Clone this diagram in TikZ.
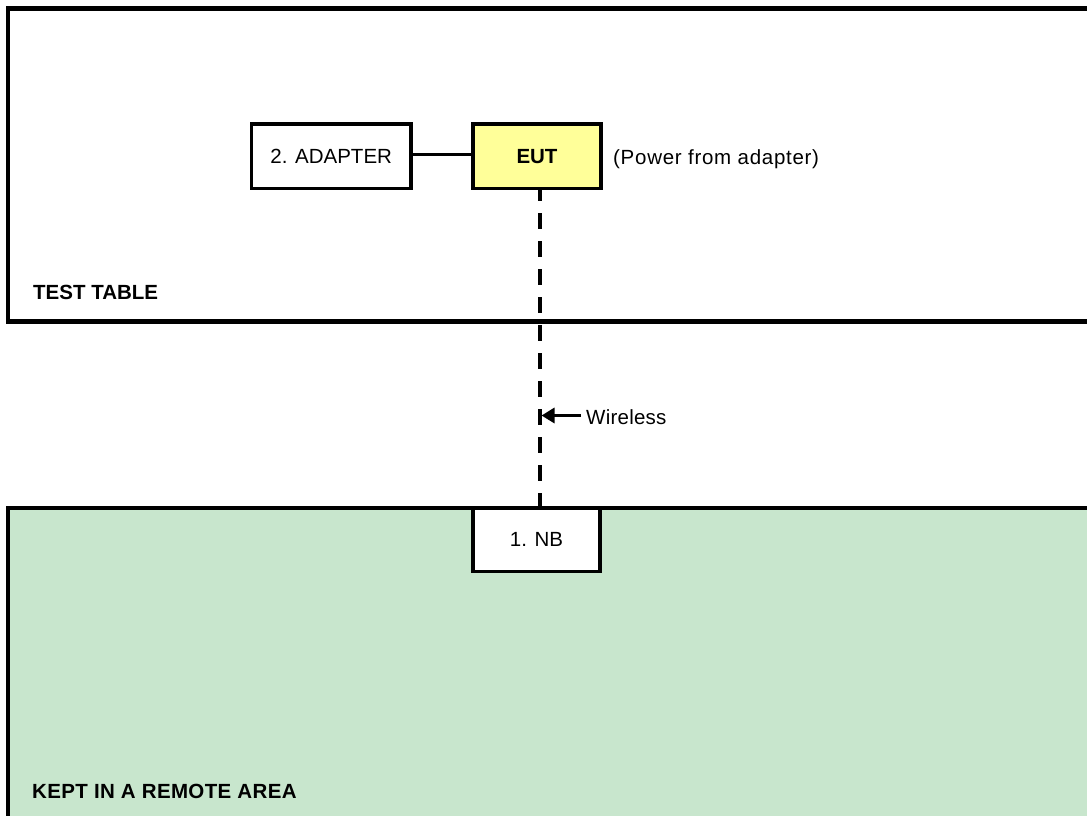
\documentclass[tikz,border=0pt]{standalone}
\usepackage{fontspec}
\setmainfont{Liberation Sans}
\usetikzlibrary{arrows.meta}
\definecolor{areagreen}{RGB}{200,230,205}
\definecolor{eutyellow}{RGB}{255,255,153}
\tikzset{
  area/.style={line width=4.8pt},
  devbox/.style={draw, line width=3.4pt, inner sep=0pt, font=\fontsize{20.5}{24}\selectfont},
  lbl/.style={inner sep=0pt, anchor=base west, font=\fontsize{20.5}{24}\selectfont},
  wire/.style={line width=3.4pt},
  wless/.style={line width=4pt, dash pattern=on 15.5pt off 12.5pt, dash phase=4.8pt},
}
\begin{document}
\begin{tikzpicture}[x=1pt,y=-1pt]
\useasboundingbox (0,0) rectangle (1087,816);
\clip (0,0) rectangle (1087,816);
% test table
\draw[area] (1100,8.5) -- (8,8.5) -- (8,321.5) -- (1100,321.5);
% remote area
\fill[areagreen] (8,508) rectangle (1100,830);
\draw[area] (8,830) -- (8,508) -- (1100,508);
% devices
\node[devbox, minimum width=159.5pt, minimum height=64.5pt] (adapter) at (331.25,156.25) {2. ADAPTER};
\node[devbox, fill=eutyellow, minimum width=128pt, minimum height=64.5pt, font=\fontsize{20.5}{24}\selectfont\bfseries] (eut) at (537,156.25) {EUT};
\draw[wless] ([xshift=2.5pt]eut.south) -- ([xshift=2.5pt,yshift=-1pt]eut.south |- 0,508);
\node[devbox, fill=white, minimum width=127pt, minimum height=63.5pt] (nb) at (536.5,539.75) {1. NB};
\draw[wire] ([yshift=2pt]adapter.east) -- ([yshift=2pt]eut.west);
% labels
\node[lbl, font=\fontsize{20.5}{24}\selectfont\addfontfeature{LetterSpace=3.5}] (power) at (613,164.5) {(Power from adapter)};
\node[lbl, font=\fontsize{20.5}{24}\selectfont\bfseries] (tt) at (33,299) {TEST TABLE};
\node[lbl, font=\fontsize{20.5}{24}\selectfont\bfseries\addfontfeature{LetterSpace=1.8}] (kr) at (32,798) {KEPT IN A REMOTE AREA};
\node[lbl, font=\fontsize{20.5}{24}\selectfont\addfontfeature{LetterSpace=1.2}] (wl) at (586,424) {Wireless};
\coordinate (wtail) at (581,415.5);
\coordinate (wtip) at (541.5,415.5);
\draw[wire, -{Triangle[length=13pt,width=15pt]}] (wtail) -- (wtip);
\end{tikzpicture}
\end{document}
